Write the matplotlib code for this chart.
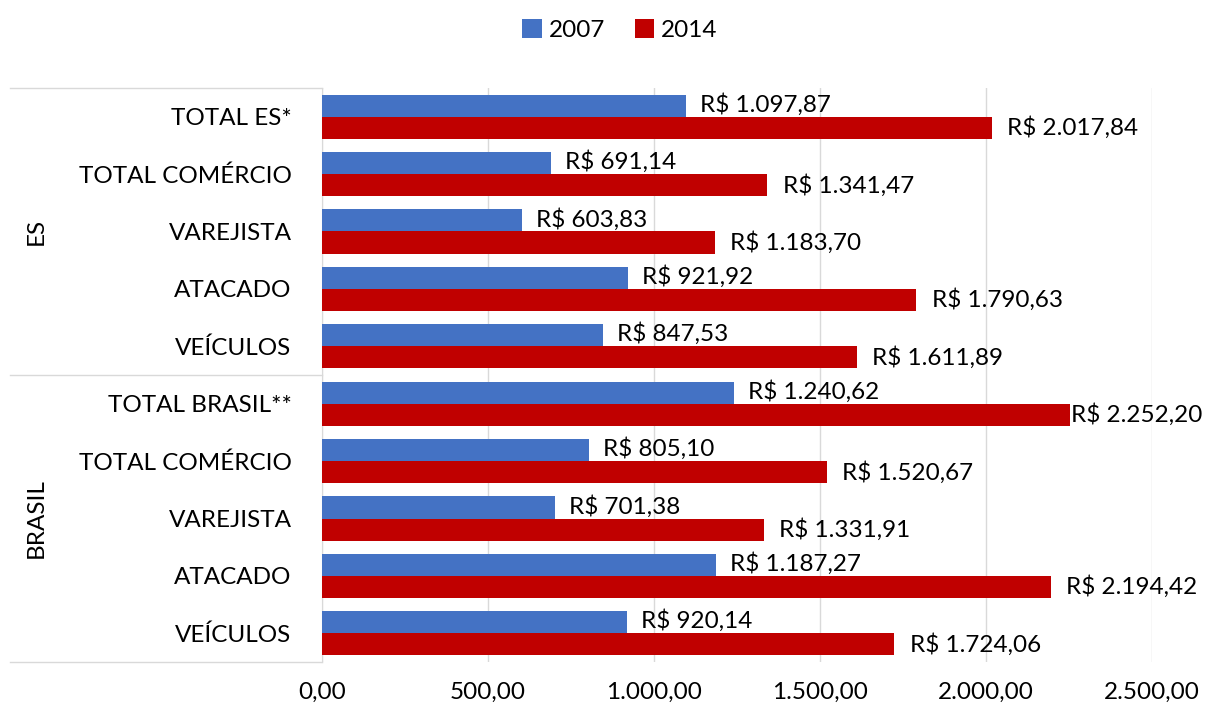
import matplotlib
matplotlib.use("Agg")
import matplotlib.pyplot as plt
from matplotlib.lines import Line2D
import numpy as np

plt.rcParams['font.family'] = ['Lato', 'DejaVu Sans']

groups = ["ES", "BRASIL"]
categories = ["TOTAL ES*", "TOTAL COMÉRCIO", "VAREJISTA", "ATACADO", "VEÍCULOS",
              "TOTAL BRASIL**", "TOTAL COMÉRCIO", "VAREJISTA", "ATACADO", "VEÍCULOS"]
v2007 = [1097.87, 691.14, 603.83, 921.92, 847.53,
         1240.62, 805.10, 701.38, 1187.27, 920.14]
v2014 = [2017.84, 1341.47, 1183.70, 1790.63, 1611.89,
         2252.20, 1520.67, 1331.91, 2194.42, 1724.06]
xticks = [0, 500, 1000, 1500, 2000, 2500]

def br(v):
    s = f"{v:,.2f}"
    return s.replace(",", "X").replace(".", ",").replace("X", ".")

W, H = 1213, 713
fig = plt.figure(figsize=(W/100, H/100), dpi=100)
ax = fig.add_axes([322/W, 1-662/H, (1152-322)/W, (662-88)/H])

y = np.arange(len(categories))
h = 0.385
c1, c2 = "#4472C4", "#C00000"
ax.barh(y - h/2, v2007, height=h, color=c1, label="2007", zorder=3)
ax.barh(y + h/2, v2014, height=h, color=c2, label="2014", zorder=3)
ax.set_ylim(len(categories) - 0.5, -0.5)
ax.set_xlim(0, 2500)

fs = 17.5
for yi, v in zip(y, v2007):
    ax.annotate("R$ " + br(v), (v, yi - h/2), xytext=(10, 1), textcoords="offset points",
                ha="left", va="center", fontsize=fs, zorder=4)
for yi, v in zip(y, v2014):
    off = 1 if v > 2220 else 11
    ax.annotate("R$ " + br(v), (v, yi + h/2), xytext=(off, 0), textcoords="offset points",
                ha="left", va="center", fontsize=fs, zorder=4)

ax.set_yticks(y)
ax.set_yticklabels(categories, fontsize=fs)
ax.tick_params(axis="y", length=0, pad=22)
ax.set_xticks(xticks)
ax.set_xticklabels([br(t) for t in xticks], fontsize=fs)
ax.tick_params(axis="x", length=0, pad=14)
ax.grid(axis="x", color="#D9D9D9", linewidth=1, zorder=0)
for s in ["top", "right", "bottom"]:
    ax.spines[s].set_visible(False)
ax.spines["left"].set_color("#D9D9D9")

# group separators and labels
for py in [88, 375, 662]:
    fig.add_artist(Line2D([10/W, 322/W], [1-py/H, 1-py/H], color="#D9D9D9", linewidth=1))
for gname, (py0, py1) in zip(groups, [(88, 375), (375, 662)]):
    fig.text(36/W, 1-(py0+py1)/2/H, gname, rotation=90, ha="center", va="center", fontsize=fs)

leg = fig.legend(loc="center", bbox_to_anchor=(620/W, 1-30/H), ncol=2, frameon=False,
                 fontsize=fs, handlelength=0.8, handleheight=0.8, handletextpad=0.3,
                 columnspacing=1.2)

fig.savefig("out.png", dpi=100)
